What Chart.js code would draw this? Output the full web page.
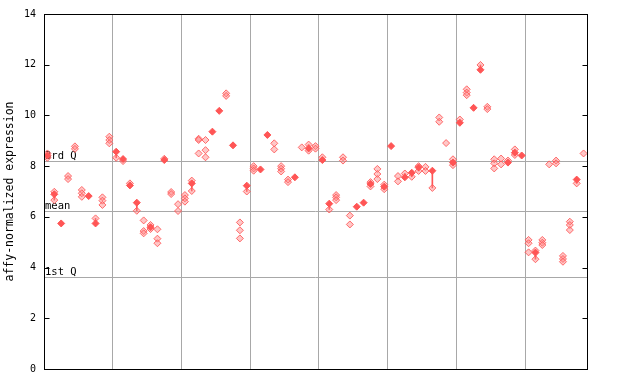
<!DOCTYPE html>
<html>
<head>
<meta charset="utf-8">
<script src="https://cdn.jsdelivr.net/npm/chart.js@4.4.0/dist/chart.umd.min.js"></script>
<style>
  html, body { margin: 0; padding: 0; background: #ffffff; }
  #wrap { width: 640px; height: 384px; }
</style>
</head>
<body>
<div id="wrap"><canvas id="c" width="640" height="384"></canvas></div>
<script>
// ---- data (one entry per sample column) ----
const filledValues = [
  [8.42], [6.89], [5.74], [], [], [], [6.82], [5.74], [], [],
  [8.57], [8.28], [7.24], [6.56], [], [5.59], [], [8.24], [], [],
  [], [7.32], [], [], [9.36], [10.18], [], [8.82], [], [7.23],
  [], [7.87], [9.23], [], [], [], [7.56], [], [8.7], [],
  [8.24], [6.52], [], [], [], [6.4], [6.56], [7.3], [], [7.19],
  [8.79], [], [7.56], [7.74], [7.95], [], [7.82], [], [], [8.14],
  [9.71], [], [10.3], [11.8], [], [], [], [8.14], [8.53], [8.42],
  [], [4.59], [], [], [], [], [], [7.47], []
];
const hollowValues = [
  [8.5, 8.33], [6.99, 6.66], [], [7.61, 7.49], [8.78, 8.68], [7.06, 6.93, 6.79], [], [5.94], [6.77, 6.64, 6.47], [9.16, 9.03, 8.9],
  [8.33], [8.2], [7.32], [6.24], [5.86, 5.44, 5.35], [5.68, 5.52], [5.51, 5.14, 4.96], [8.29], [6.98, 6.9], [6.5, 6.23],
  [6.86, 6.73, 6.6], [7.43, 7.02], [9.08, 9.03, 8.5], [9.03, 8.63, 8.35], [], [], [10.87, 10.77], [], [5.78, 5.47, 5.15], [7.0],
  [8.0, 7.91, 7.82], [], [], [8.9, 8.66], [8.0, 7.9, 7.79], [7.47, 7.37], [], [8.74], [8.85, 8.61], [8.79, 8.69],
  [8.35], [6.29], [6.86, 6.77, 6.66], [8.35, 8.22], [6.05, 5.7], [], [], [7.37, 7.2], [7.89, 7.69, 7.49], [7.27, 7.09],
  [], [7.61, 7.4], [7.71], [7.58], [8.0, 7.81], [7.97, 7.81], [7.14], [9.92, 9.75], [8.91], [8.27, 8.04],
  [9.84], [11.03, 10.9, 10.8], [], [11.99], [10.34, 10.25], [8.27, 8.11, 7.91], [8.3, 8.07], [8.22], [8.66, 8.44], [],
  [5.09, 4.96, 4.6], [4.67, 4.33], [5.09, 4.98, 4.89], [8.07], [8.22, 8.11], [4.46, 4.34, 4.23], [5.81, 5.68, 5.48], [7.32], [8.5]
];
const quartileLabels = ["3rd Q", "mean", "1st Q"];
const quartileValues = [8.22, 6.22, 3.61];
const yTickValues = [0, 2, 4, 6, 8, 10, 12, 14];
const columnCount = 79;
const groupSize = 10;
const yAxisTitle = "affy-normalized expression";

// ---- build datasets ----
const filledPts = [], hollowPts = [], rangeBars = [];
for (let i = 0; i < filledValues.length; i++) {
  const x = i + 0.5;
  filledValues[i].forEach(v => filledPts.push({x, y: v}));
  hollowValues[i].forEach(v => hollowPts.push({x, y: v}));
  if (filledValues[i].length) {
    const all = filledValues[i].concat(hollowValues[i]);
    if (all.length > 1) rangeBars.push({x, y: [Math.min(...all), Math.max(...all)]});
  }
}

const MONO = "'DejaVu Sans Mono', 'Liberation Mono', monospace";
const RED = '#ff5555';

const decor = {
  id: 'decor',
  beforeDatasetsDraw(chart) {
    const {ctx, chartArea: a, scales: {y}} = chart;
    ctx.save();
    ctx.strokeStyle = '#a8a8a8';
    ctx.lineWidth = 1;
    ctx.font = '10.5px ' + MONO;
    ctx.fillStyle = '#000';
    ctx.textBaseline = 'alphabetic';
    ctx.textAlign = 'left';
    quartileValues.forEach((v, k) => {
      const py = Math.round(y.getPixelForValue(v)) + 0.5;
      ctx.beginPath();
      ctx.moveTo(a.left, py);
      ctx.lineTo(a.right, py);
      ctx.stroke();
      ctx.fillText(quartileLabels[k], a.left + 1, py - 2.5);
    });
    ctx.restore();
  },
  afterDraw(chart) {
    const {ctx, chartArea: a, scales: {y}} = chart;
    ctx.save();
    ctx.strokeStyle = '#000';
    ctx.lineWidth = 1;
    const L = Math.round(a.left) + 0.5, R = Math.round(a.right) + 0.5;
    const T = Math.round(a.top) + 0.5, B = Math.round(a.bottom) + 0.5;
    ctx.strokeRect(L, T, R - L, B - T);
    ctx.beginPath();
    yTickValues.forEach(v => {
      const py = Math.round(y.getPixelForValue(v)) + 0.5;
      ctx.moveTo(L, py); ctx.lineTo(L + 5, py);
      ctx.moveTo(R, py); ctx.lineTo(R - 5, py);
    });
    ctx.stroke();
    ctx.restore();
  }
};

new Chart(document.getElementById('c'), {
  type: 'scatter',
  data: {
    datasets: [
      {
        type: 'bar',
        data: rangeBars,
        backgroundColor: RED,
        borderWidth: 0,
        barThickness: 1,
        order: 3
      },
      {
        data: hollowPts,
        pointStyle: 'rectRot',
        pointRadius: 3.5,
        backgroundColor: 'rgba(255,130,130,0.45)',
        borderColor: 'rgba(255,85,85,0.85)',
        borderWidth: 1,
        order: 2
      },
      {
        data: filledPts,
        pointStyle: 'rectRot',
        pointRadius: 3.5,
        backgroundColor: RED,
        borderColor: RED,
        borderWidth: 1,
        order: 1
      }
    ]
  },
  options: {
    responsive: false,
    animation: false,
    events: [],
    layout: { padding: { top: 13, right: 53, bottom: 15, left: 0 } },
    plugins: { legend: { display: false }, tooltip: { enabled: false } },
    scales: {
      x: {
        type: 'linear',
        min: 0,
        max: columnCount,
        offset: false,
        ticks: { display: false, stepSize: groupSize },
        border: { display: false },
        grid: {
          offset: false,
          drawTicks: false,
          tickLength: 0,
          color: ctx => (ctx.tick && ctx.tick.value > 0 && ctx.tick.value < columnCount) ? '#a8a8a8' : 'rgba(0,0,0,0)',
          lineWidth: 1
        },
        afterFit(s) { s.height = 0; }
      },
      y: {
        type: 'linear',
        min: 0,
        max: 14,
        afterBuildTicks(s) { s.ticks = yTickValues.map(v => ({value: v})); },
        ticks: { color: '#000', font: { family: MONO, size: 10 }, padding: 8 },
        border: { display: false },
        grid: { display: false, drawTicks: false, tickLength: 0 },
        title: {
          display: true,
          text: yAxisTitle,
          color: '#000',
          font: { family: MONO, size: 11.5 },
          padding: { top: 3, bottom: 0 }
        },
        afterFit(s) { s.width = 44; }
      }
    }
  },
  plugins: [decor]
});
</script>
</body>
</html>
